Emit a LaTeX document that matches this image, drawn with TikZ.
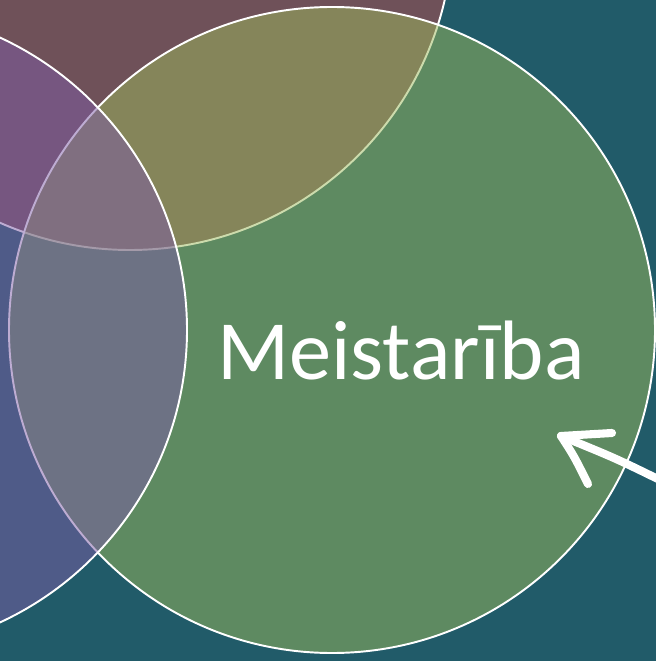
\documentclass[tikz,border=0pt]{standalone}
\usepackage{fontspec}
\setmainfont{Carlito}
\usepackage{xcolor}
\definecolor{bgteal}{HTML}{215B69}
\definecolor{venntop}{HTML}{BD494B}
\definecolor{venngreen}{HTML}{9BB95B}
\definecolor{vennleft}{HTML}{7D5BA7}

\tikzset{
  venn/.style={draw=white,line width=1.1pt,fill opacity=0.5},
  pen/.style={draw=white,line width=4.6pt,line cap=round,line join=round}
}

\begin{document}
\begin{tikzpicture}[x=0.02cm,y=-0.02cm]
    \path[use as bounding box,fill=bgteal] (0,0) rectangle (656,661);
    \clip (0,0) rectangle (656,661);

    % the three sets, drawn back to front
    \coordinate (top) at (130,-73);
    \coordinate (green) at (332,330);
    \coordinate (left) at (-135,330);
    \begin{scope}[every path/.style={venn}]
      \path[fill=venntop] (top) circle (323);
      \path[fill=venngreen] (green) circle (323);
      \path[fill=vennleft] (left) circle (322);
    \end{scope}

    \node[text=white,font=\fontsize{48}{58}\selectfont,anchor=base] (label) at (401,379) {Meistarība};

    % hand drawn pointer
    \coordinate (tail) at (662,481);
    \coordinate (tip) at (561,436);
    \coordinate (barb1) at (612,433);
    \coordinate (barb2) at (588,484);
    \draw[pen] (tail) .. controls (615,458) .. (tip);
    \draw[pen] (barb1) -- (tip) .. controls (574,456) .. (barb2);
\end{tikzpicture}
\end{document}
